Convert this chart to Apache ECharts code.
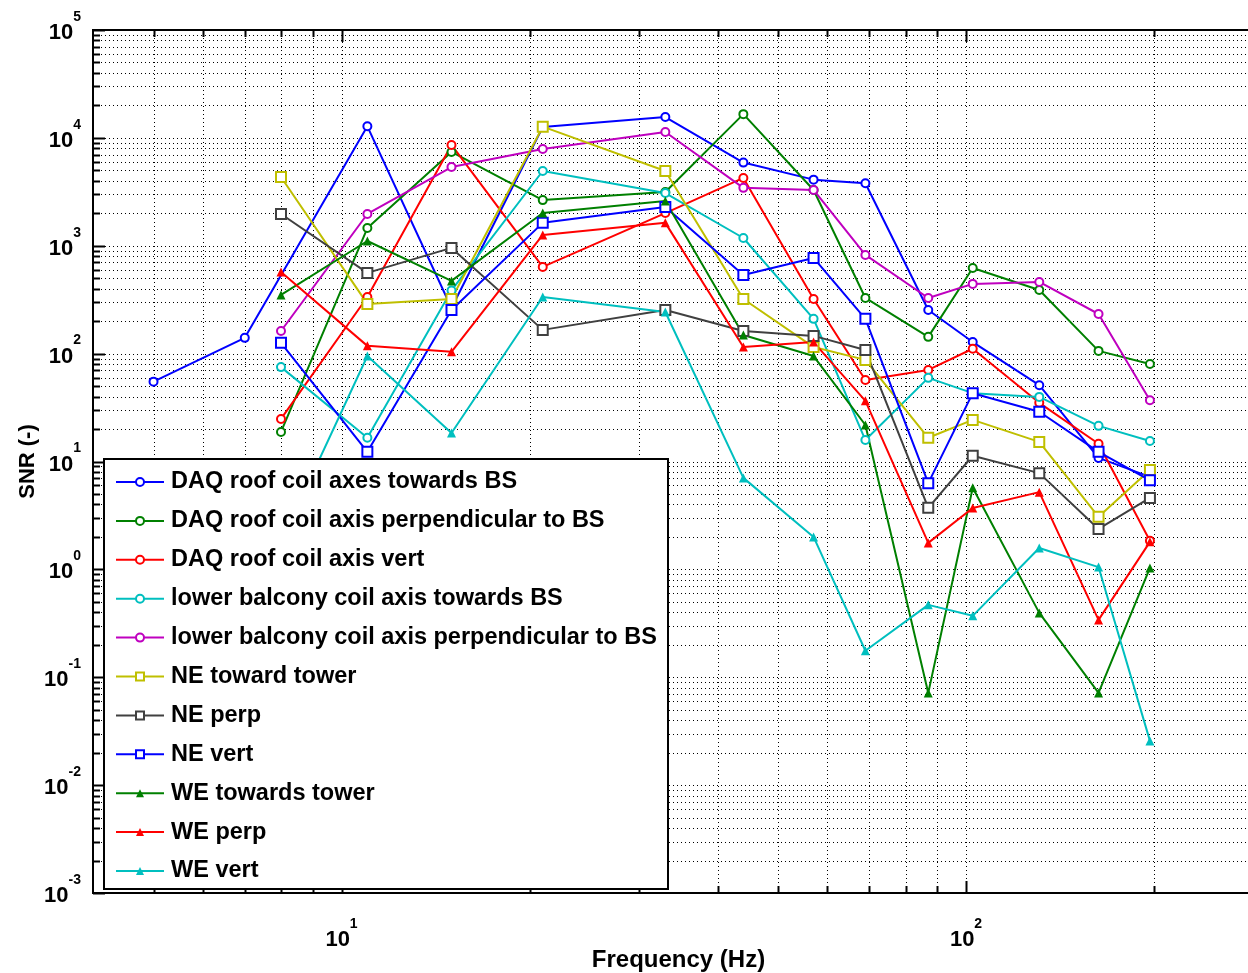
<!DOCTYPE html>
<html><head><meta charset="utf-8">
<script src="https://cdn.jsdelivr.net/npm/echarts@6/dist/echarts.min.js"></script>
<style>html,body{margin:0;padding:0;background:#fff}#chart{width:1248px;height:973px}</style>
</head><body><div id="chart"></div>
<script>
// ---------------- data ----------------
const freqDAQ = [5, 7, 11, 15, 21, 33, 44, 57, 69, 87, 102.5, 131, 163, 197];
const freq    = [8, 11, 15, 21, 33, 44, 57, 69, 87, 102.5, 131, 163, 197];

const seriesNames = [
  'DAQ roof coil axes towards BS',
  'DAQ roof coil axis perpendicular to BS',
  'DAQ roof coil axis vert',
  'lower balcony coil axis towards BS',
  'lower balcony coil axis perpendicular to BS',
  'NE toward tower',
  'NE perp',
  'NE vert',
  'WE towards tower',
  'WE perp',
  'WE vert'
];

const daqTowards   = [55, 140, 12800, 265, 12600, 15600, 5900, 4100, 3800, 254, 128, 51, 10.8, 7.2];
const daqPerp      = [18.8, 1460, 7400, 2650, 3150, 16600, 3290, 328, 143, 622, 389, 106, 80];
const daqVert      = [24.8, 335, 8600, 637, 2010, 4250, 321, 57, 70.6, 111, 35, 14.6, 1.84];
const balcTowards  = [75, 16.6, 385, 4930, 3080, 1180, 210, 15.8, 59.6, 43, 39.7, 21.4, 15.5];
const balcPerp     = [162, 1970, 5370, 7890, 11350, 3440, 3290, 822, 328, 443, 462, 233, 37];
const neToward     = [4340, 289, 321, 12700, 4930, 321, 115, 87.5, 16.6, 24.3, 15.2, 3.07, 8.35];
const nePerp       = [1970, 560, 955, 166, 254, 162, 146, 108, 3.72, 11.3, 7.8, 2.37, 4.6];
const neVert       = [126, 12.3, 254, 1630, 2290, 536, 771, 210, 6.3, 43, 28.9, 12.3, 6.7];
const weToward     = [350, 1107, 472, 2010, 2600, 149, 95, 21.8, 0.0716, 5.7, 0.395, 0.0716, 1.03];
const wePerp       = [571, 118, 104, 1260, 1630, 115, 128, 36.5, 1.76, 3.7, 5.2, 0.34, 1.8];
const weVert       = [1.8, 95, 18.4, 335, 243, 7.05, 2.0, 0.176, 0.469, 0.371, 1.58, 1.05, 0.0257];

const xMin = 4, xMax = 300, yMin = 1e-3, yMax = 1e5;

// ---------------- styling ----------------
const FONT = '"Liberation Sans", Arial, Helvetica, sans-serif';
const seriesStyle = [
  {x: freqDAQ, y: daqTowards,  color: '#0000ff', symbol: 'emptyCircle', size: 8},
  {x: freq,    y: daqPerp,     color: '#008000', symbol: 'emptyCircle', size: 8},
  {x: freq,    y: daqVert,     color: '#ff0000', symbol: 'emptyCircle', size: 8},
  {x: freq,    y: balcTowards, color: '#00bfbf', symbol: 'emptyCircle', size: 8},
  {x: freq,    y: balcPerp,    color: '#bf00bf', symbol: 'emptyCircle', size: 8},
  {x: freq,    y: neToward,    color: '#bfbf00', symbol: 'emptyRect',   size: 10},
  {x: freq,    y: nePerp,      color: '#404040', symbol: 'emptyRect',   size: 10},
  {x: freq,    y: neVert,      color: '#0000ff', symbol: 'emptyRect',   size: 10},
  {x: freq,    y: weToward,    color: '#008000', symbol: 'triangle',    size: 9},
  {x: freq,    y: wePerp,      color: '#ff0000', symbol: 'triangle',    size: 9},
  {x: freq,    y: weVert,      color: '#00bfbf', symbol: 'triangle',    size: 9}
];

// grid line positions (log minor grid)
const xGridVals = [];
for (let e = 0; e <= 2; e++) for (let k = 1; k <= 9; k++) {
  const v = k * Math.pow(10, e);
  if (v > xMin && v < xMax) xGridVals.push(v);
}
const yGridVals = [];
for (let e = -3; e < 5; e++) for (let k = 1; k <= 9; k++) yGridVals.push(k * Math.pow(10, e));
yGridVals.push(1e5);

function isPow10(v) {
  const l = Math.log10(v);
  return Math.abs(l - Math.round(l)) < 1e-6;
}
function powLabel(v) {
  if (!isPow10(v)) return '';
  return '{b|10}{s|' + Math.round(Math.log10(v)) + '}';
}
const richLbl = {
  b: {fontFamily: FONT, fontSize: 22, fontWeight: 'bold', color: '#000', lineHeight: 40, padding: [6, 0, 0, 0]},
  s: {fontFamily: FONT, fontSize: 14, fontWeight: 'bold', color: '#000', lineHeight: 14, verticalAlign: 'top'}
};

const dotted = {stroke: '#000', lineWidth: 1, lineDash: [1, 3]};
const tickStyle = {stroke: '#000', lineWidth: 2};

function renderXGrid(params, api) {
  const cs = params.coordSys;
  const v = api.value(0);
  const x = Math.round(api.coord([v, 1])[0]) + 0.5;
  const len = isPow10(v) ? 12 : 7;
  const top = cs.y, bot = cs.y + cs.height;
  return {type: 'group', children: [
    {type: 'line', shape: {x1: x, y1: top, x2: x, y2: bot}, style: dotted},
    {type: 'line', shape: {x1: x, y1: top, x2: x, y2: top + len}, style: tickStyle},
    {type: 'line', shape: {x1: x, y1: bot, x2: x, y2: bot - len}, style: tickStyle}
  ]};
}
function renderYGrid(params, api) {
  const cs = params.coordSys;
  const v = api.value(1);
  const y = Math.round(api.coord([10, v])[1]) + 0.5;
  const len = isPow10(v) ? 12 : 7;
  const left = cs.x, right = cs.x + cs.width;
  return {type: 'group', children: [
    {type: 'line', shape: {x1: left, y1: y, x2: right, y2: y}, style: dotted},
    {type: 'line', shape: {x1: left, y1: y, x2: left + len, y2: y}, style: tickStyle}
  ]};
}

const series = [
  {type: 'custom', name: '_gx', silent: true, z: 1, renderItem: renderXGrid,
   data: xGridVals.map(v => [v, 1]), encode: {x: 0, y: 1}, clip: false},
  {type: 'custom', name: '_gy', silent: true, z: 1, renderItem: renderYGrid,
   data: yGridVals.map(v => [10, v]), encode: {x: 0, y: 1}, clip: false}
];
seriesNames.forEach((name, i) => {
  const st = seriesStyle[i];
  series.push({
    type: 'line', name: name, z: 2,
    data: st.y.map((v, j) => [st.x[j], v]),
    symbol: st.symbol, symbolSize: st.size, showSymbol: true,
    lineStyle: {color: st.color, width: 2},
    itemStyle: {color: st.color, borderWidth: 1.8},
    emphasis: {disabled: true}
  });
});

const chart = echarts.init(document.getElementById('chart'), null, {renderer: 'canvas'});
chart.setOption({
  backgroundColor: '#fff',
  animation: false,
  grid: {left: 93, top: 30, width: 1171, height: 863, outerBoundsMode: 'none', containLabel: false,
         show: true, borderColor: '#000', borderWidth: 2, backgroundColor: 'transparent'},
  xAxis: {
    type: 'log', logBase: 10, min: xMin, max: xMax,
    axisLine: {show: false}, axisTick: {show: false}, splitLine: {show: false},
    axisLabel: {formatter: powLabel, rich: richLbl, margin: 24},
    name: 'Frequency (Hz)', nameLocation: 'middle', nameGap: 55, nameMoveOverlap: false,
    nameTextStyle: {fontFamily: FONT, fontSize: 24, fontWeight: 'bold', color: '#000'}
  },
  yAxis: {
    type: 'log', logBase: 10, min: yMin, max: yMax,
    axisLine: {show: false}, axisTick: {show: false}, splitLine: {show: false},
    axisLabel: {formatter: powLabel, rich: richLbl, margin: 12},
    name: 'SNR (-)', nameLocation: 'middle', nameGap: 54, nameRotate: 90, nameMoveOverlap: false,
    nameTextStyle: {fontFamily: FONT, fontSize: 22, fontWeight: 'bold', color: '#000'}
  },
  legend: {
    data: seriesNames, orient: 'vertical', left: 115, top: 470, padding: 0,
    itemWidth: 48, itemHeight: 10, itemGap: 14.9, selectedMode: false,
    textStyle: {fontFamily: FONT, fontSize: 23.5, fontWeight: 'bold', color: '#000', lineHeight: 24, padding: [0, 0, 0, 2]}
  },
  graphic: [{
    type: 'rect', left: 103, top: 458, z: 3,
    shape: {width: 564, height: 430},
    style: {fill: '#fff', stroke: '#000', lineWidth: 2}
  }],
  series: series
});
</script></body></html>
